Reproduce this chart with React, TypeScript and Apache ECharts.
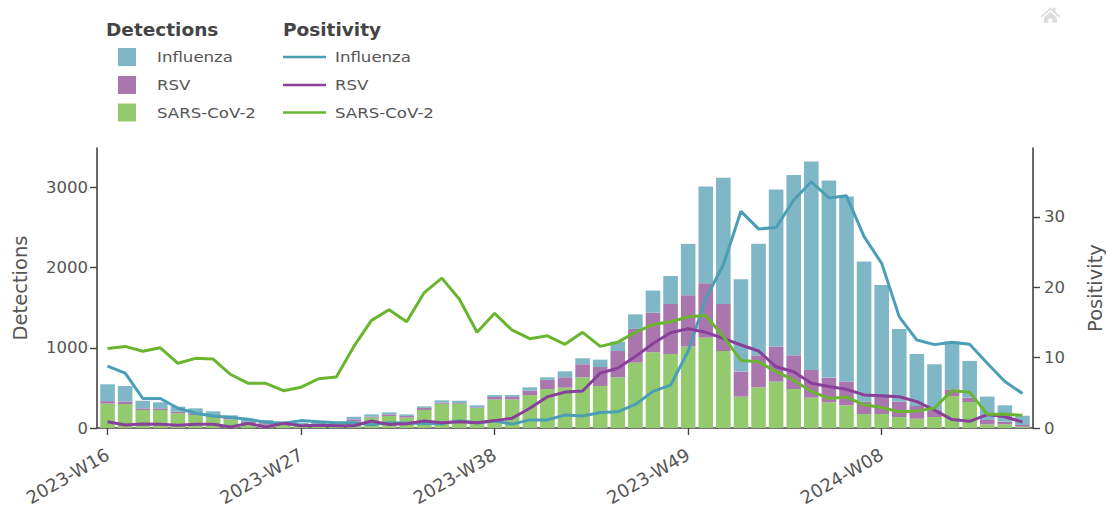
import React, { useEffect, useRef } from "react";
import * as echarts from "echarts";

const weeks = [
  "2023-W16","2023-W17","2023-W18","2023-W19","2023-W20","2023-W21","2023-W22","2023-W23","2023-W24","2023-W25",
  "2023-W26","2023-W27","2023-W28","2023-W29","2023-W30","2023-W31","2023-W32","2023-W33","2023-W34","2023-W35",
  "2023-W36","2023-W37","2023-W38","2023-W39","2023-W40","2023-W41","2023-W42","2023-W43","2023-W44","2023-W45",
  "2023-W46","2023-W47","2023-W48","2023-W49","2023-W50","2023-W51","2023-W52","2024-W01","2024-W02","2024-W03",
  "2024-W04","2024-W05","2024-W06","2024-W07","2024-W08","2024-W09","2024-W10","2024-W11","2024-W12","2024-W13",
  "2024-W14","2024-W15","2024-W16",
];
const tickIndexes = [0, 11, 22, 33, 44];
const leftTicks = [0, 1000, 2000, 3000];
const rightTicks = [0, 10, 20, 30];

const detSars = [305,300,225,225,183,162,140,108,60,40,40,30,40,50,80,130,150,130,225,303,303,250,357,357,411,486,503,632,524,632,815,944,923,1014,1127,960,391,507,578,486,378,320,283,175,175,137,116,137,399,324,46,46,17];
const detRsv = [30,30,20,20,21,21,22,22,15,20,15,10,10,10,28,10,20,20,25,13,9,8,30,30,54,114,129,162,236,328,420,494,623,641,677,586,312,399,436,420,345,308,295,153,215,191,158,87,83,54,54,33,20];
const detFlu = [210,195,95,75,62,62,46,28,33,40,25,25,35,15,32,30,25,20,20,29,28,25,24,24,42,32,75,75,92,117,182,275,349,640,1206,1572,1151,1389,1958,2249,2598,2457,2307,1746,1393,907,649,570,595,458,291,204,117];

const posFlu = [8.8,7.8,4.2,4.2,2.8,2.1,1.7,1.5,1.25,0.8,0.66,1.05,0.9,0.75,0.75,0.45,0.75,0.7,0.65,0.6,1.05,0.7,1.0,0.55,1.15,1.15,1.85,1.7,2.2,2.3,3.35,5.2,6.1,10.9,18.4,23.2,30.8,28.3,28.5,32.4,35,32.7,33,27.2,23.4,15.8,12.5,11.85,12.2,11.9,9.2,6.6,4.9];
const posRsv = [0.9,0.43,0.57,0.52,0.38,0.52,0.52,0.15,0.66,0.15,0.66,0.33,0.38,0.33,0.33,1.0,0.5,0.6,1.0,0.75,0.9,0.75,1.05,1.4,2.8,4.45,5.1,5.25,7.8,8.5,10.15,12,13.55,14.1,13.6,12.75,11.8,10.95,8.7,8,6.35,5.9,5.5,4.7,4.6,4.45,3.75,2.55,1.2,0.95,1.9,1.6,0.85];
const posSars = [11.3,11.6,10.9,11.4,9.2,9.9,9.8,7.6,6.35,6.35,5.3,5.8,7.0,7.25,11.6,15.3,16.8,15.1,19.25,21.3,18.3,13.6,16.3,13.9,12.7,13.1,11.9,13.6,11.6,12.2,13.6,14.7,15.1,15.8,16.0,13,9.6,9.4,8.0,6.8,5.2,4.2,4.4,3.3,2.9,2.3,2.4,2.85,5.3,5.1,1.95,1.95,1.8];

const names = ["Influenza", "RSV", "SARS-CoV-2"];
const barColors = ["#80b7c6", "#a977ad", "#94ca6e"];
const lineColors = ["#4b9eb5", "#88409a", "#6ab52f"];
const FONT = "'DejaVu Sans', Verdana, sans-serif";
const INK = "#555";

export default function App() {
  const ref = useRef<HTMLDivElement>(null);
  useEffect(() => {
    if (!ref.current) return;
    const chart = echarts.init(ref.current, null, { renderer: "svg" });
    const legendRows = [57, 85, 112.5];
    const graphics: any[] = [
      { type: "text", x: 106, y: 29, style: { text: "Detections", font: `bold 18.5px ${FONT}`, fill: "#444", verticalAlign: "middle" } },
      { type: "text", x: 283, y: 29, style: { text: "Positivity", font: `bold 18.5px ${FONT}`, fill: "#444", verticalAlign: "middle" } },
    ];
    names.forEach((n, i) => {
      const y = legendRows[i];
      graphics.push(
        { type: "rect", shape: { x: 118, y: y - 9, width: 18, height: 18 }, style: { fill: barColors[i] } },
        { type: "text", x: 157, y: y + 0.7, scaleX: 1.23, style: { text: n, font: `13.5px ${FONT}`, fill: INK, verticalAlign: "middle" } },
        { type: "line", shape: { x1: 283, y1: y, x2: 326, y2: y }, style: { stroke: lineColors[i], lineWidth: 2.6 } },
        { type: "text", x: 335, y: y + 0.7, scaleX: 1.23, style: { text: n, font: `13.5px ${FONT}`, fill: INK, verticalAlign: "middle" } },
      );
    });
    graphics.push({
      type: "group", x: 1040, y: 6, scaleX: 1.3, scaleY: 1.2,
      children: [
        { type: "polygon", shape: { points: [[8,1],[10,3],[10,1.5],[12,1.5],[12,5],[15.5,8.5],[14.5,9.5],[8,3.2],[1.5,9.5],[0.5,8.5]] }, style: { fill: "#ddd" } },
        { type: "polygon", shape: { points: [[3,9.5],[8,4.8],[13,9.5],[13,14],[9.5,14],[9.5,10.5],[6.5,10.5],[6.5,14],[3,14]] }, style: { fill: "#ddd" } },
      ],
    });
    const axisLine = { show: true, onZero: false, lineStyle: { color: "#444", width: 1.6 } };
    const axisTick = { show: true, length: 7, lineStyle: { color: "#444", width: 1.4 } };
    const bar = (i: number, data: number[]) => ({
      type: "bar", name: "Detections " + names[i], stack: "detections", xAxisIndex: 0, yAxisIndex: 0,
      barWidth: 14.6, data: data.map((v, k) => [v, k]), encode: { x: 1, y: 0 }, itemStyle: { color: barColors[i] }, z: 2,
    });
    const line = (i: number, data: number[]) => ({
      type: "line", name: "Positivity " + names[i], xAxisIndex: 0, yAxisIndex: 1, data: data.map((v, k) => [k, v]),
      symbol: "none", lineStyle: { color: lineColors[i], width: 3 }, z: 5,
    });
    chart.setOption({
      animation: false,
      backgroundColor: "#fff",
      grid: { left: 97, right: 73, top: 148, bottom: 82, containLabel: false, outerBoundsMode: "none" },
      graphic: graphics,
      xAxis: {
        type: "value", min: -0.6, max: 52.6, splitLine: { show: false },
        axisLine,
        axisTick: { ...axisTick, customValues: tickIndexes },
        axisLabel: {
          customValues: tickIndexes, rotate: 30, margin: 25, color: INK, fontFamily: FONT, fontSize: 18,
          formatter: (v: number) => weeks[v] ?? "",
        },
      },
      yAxis: [
        {
          type: "value", min: 0, max: 3490, name: "Detections", nameLocation: "middle", nameGap: 67, nameMoveOverlap: false,
          nameTextStyle: { color: INK, fontFamily: FONT, fontSize: 19.5 },
          splitLine: { show: false }, axisLine,
          axisTick: { ...axisTick, customValues: leftTicks },
          axisLabel: { customValues: leftTicks, color: INK, fontFamily: FONT, fontSize: 16.5, margin: 9, formatter: (v: number) => String(v) },
        },
        {
          type: "value", min: 0, max: 39.8, position: "right", name: "Positivity", nameLocation: "middle", nameGap: 52, nameMoveOverlap: false,
          nameRotate: 90,
          nameTextStyle: { color: INK, fontFamily: FONT, fontSize: 19.5 },
          splitLine: { show: false }, axisLine,
          axisTick: { ...axisTick, customValues: rightTicks },
          axisLabel: { customValues: rightTicks, color: INK, fontFamily: FONT, fontSize: 16.5, margin: 11, formatter: (v: number) => String(v) },
        },
      ],
      series: [bar(2, detSars), bar(1, detRsv), bar(0, detFlu), line(0, posFlu), line(1, posRsv), line(2, posSars)],
    });
    return () => chart.dispose();
  }, []);
  return <div ref={ref} style={{ position: "absolute", left: 0, top: 0, width: 1106, height: 510 }} />;
}
